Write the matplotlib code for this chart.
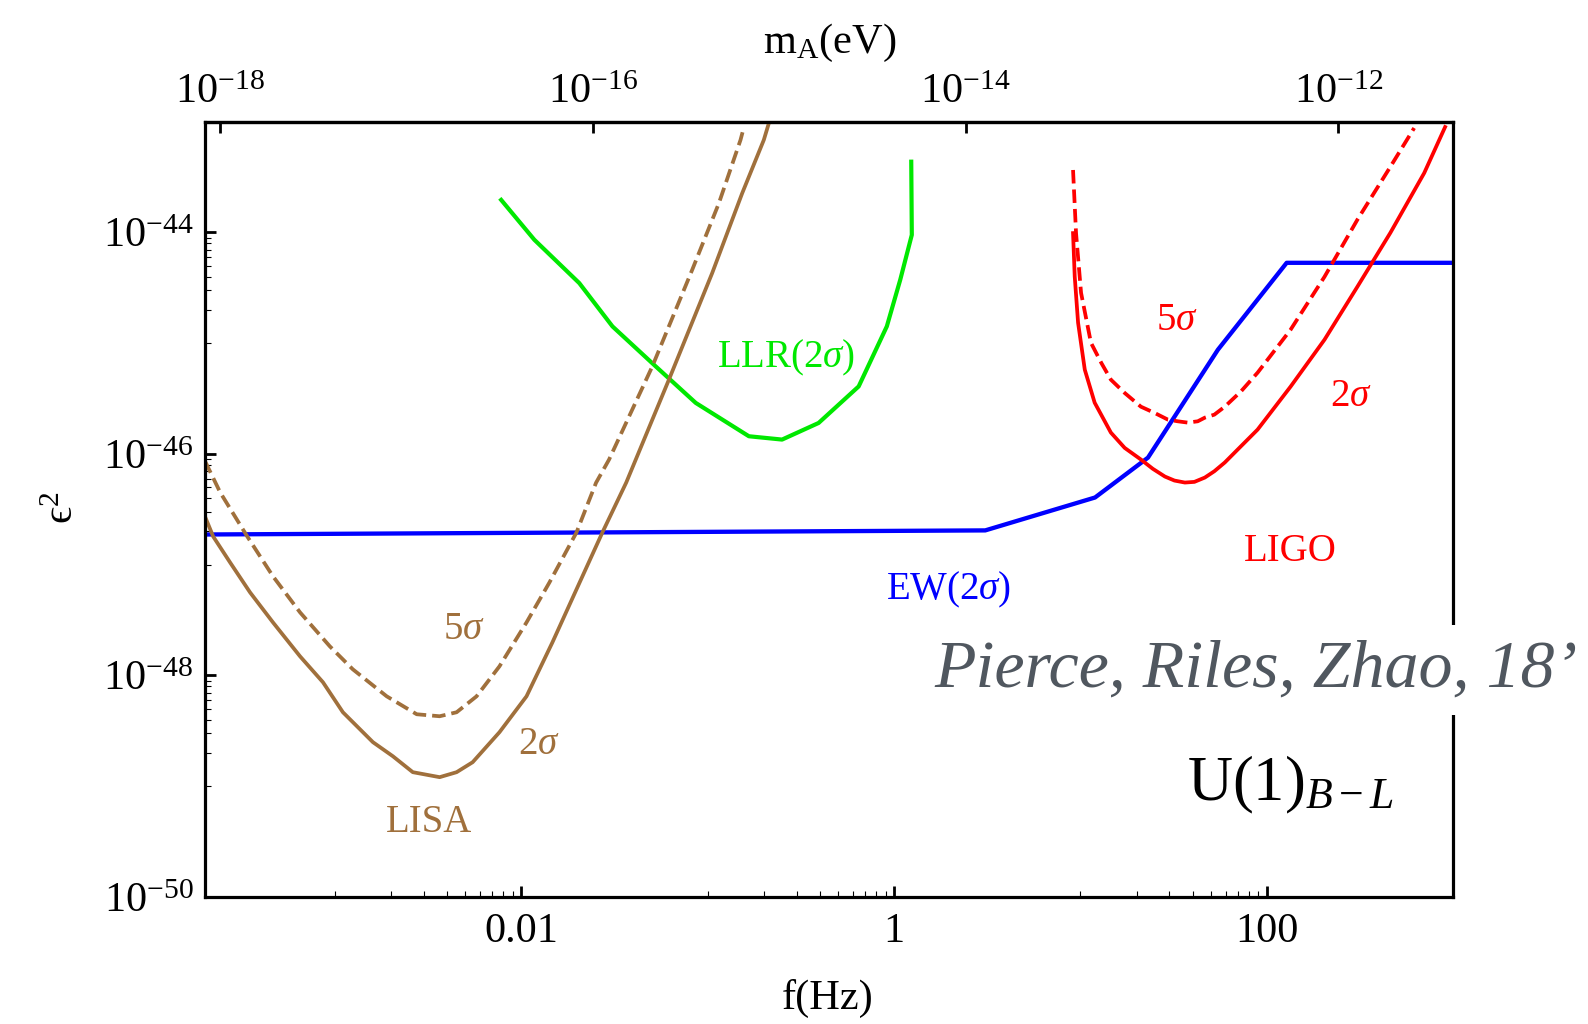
import numpy as np
import matplotlib
matplotlib.use("Agg")
import matplotlib.pyplot as plt
from matplotlib.ticker import FixedLocator, NullLocator, NullFormatter
from matplotlib.patches import Rectangle

# ---------------- data (log10 values) ----------------
# LISA, 2 sigma (solid brown)
lisa2_logf = [-3.698, -3.653, -3.562, -3.455, -3.332, -3.187, -3.064, -2.957, -2.796,
              -2.689, -2.582, -2.438, -2.347, -2.261, -2.117, -1.972, -1.833, -1.704,
              -1.565, -1.437, -1.386, -1.208, -0.976, -0.815, -0.699, -0.672]
lisa2_logeps = [-46.56, -46.745, -46.980, -47.250, -47.521, -47.827, -48.061, -48.332, -48.602,
                -48.729, -48.873, -48.918, -48.873, -48.783, -48.512, -48.188, -47.701, -47.223,
                -46.709, -46.258, -46.051, -45.329, -44.367, -43.646, -43.165, -43.014]
# LISA, 5 sigma (dashed brown)
lisa5_logf = [-3.698, -3.615, -3.470, -3.332, -3.187, -3.027, -2.904, -2.722, -2.561, -2.438,
              -2.347, -2.240, -2.117, -1.972, -1.849, -1.704, -1.599, -1.529, -1.297, -1.083,
              -0.940, -0.824, -0.805]
lisa5_logeps = [-46.06, -46.348, -46.745, -47.105, -47.430, -47.737, -47.944, -48.188, -48.350,
                -48.368, -48.332, -48.188, -47.917, -47.521, -47.160, -46.709, -46.26, -46.05,
                -45.209, -44.337, -43.736, -43.165, -43.045]
# LLR (green)
llr_logf = [-2.108, -1.930, -1.689, -1.511, -1.279, -1.064, -0.779, -0.601, -0.405, -0.190,
            -0.039, 0.033, 0.095, 0.092]
llr_logeps = [-43.706, -44.066, -44.457, -44.848, -45.209, -45.539, -45.840, -45.870, -45.720,
              -45.390, -44.848, -44.427, -44.022, -43.361]
# EW (blue)
ew_logf = [-3.70, 0.489, 1.078, 1.362, 1.737, 2.106, 3.0]
ew_logeps = [-46.727, -46.69, -46.393, -46.033, -45.059, -44.274, -44.274]
# LIGO, 2 sigma (solid red)
ligo2_logf = [0.960, 0.969, 0.987, 1.023, 1.076, 1.163, 1.237, 1.324, 1.388, 1.453, 1.504,
              1.560, 1.611, 1.667, 1.718, 1.774, 1.861, 1.950, 2.127, 2.309, 2.485, 2.662,
              2.844, 2.956]
ligo2_logeps = [-44.006, -44.398, -44.815, -45.239, -45.537, -45.807, -45.945, -46.050, -46.134,
                -46.204, -46.240, -46.258, -46.252, -46.213, -46.156, -46.077, -45.930, -45.780,
                -45.392, -44.968, -44.491, -44.004, -43.463, -43.048]
# LIGO, 5 sigma (dashed red)
ligo5_logf = [0.960, 0.976, 1.003, 1.056, 1.112, 1.163, 1.237, 1.324, 1.397, 1.469, 1.522,
              1.576, 1.629, 1.667, 1.718, 1.774, 1.861, 1.950, 2.127, 2.309, 2.485, 2.662, 2.790]
ligo5_logeps = [-43.436, -44.004, -44.545, -44.996, -45.179, -45.329, -45.449, -45.573, -45.629,
                -45.690, -45.705, -45.717, -45.705, -45.672, -45.645, -45.573, -45.435, -45.266,
                -44.878, -44.400, -43.886, -43.408, -43.057]

# axes
xlim = [2e-4, 1e3]
ylim = [1e-50, 1e-43]
x_major = [1e-2, 1.0, 1e2]
x_major_labels = ["0.01", "1", "100"]
x_minor_decades = [-3, -1, 1]
y_major = [1e-44, 1e-46, 1e-48, 1e-50]
y_major_labels = [r"$10^{-44}$", r"$10^{-46}$", r"$10^{-48}$", r"$10^{-50}$"]
y_minor_decades = [-45, -47, -49]
top_major = [1e-18, 1e-16, 1e-14, 1e-12]
top_major_labels = [r"$10^{-18}$", r"$10^{-16}$", r"$10^{-14}$", r"$10^{-12}$"]
H_EV_S = 4.135667696e-15  # Planck constant, eV s

# ---------------- style ----------------
plt.rcParams["font.family"] = ["Liberation Serif", "DejaVu Serif"]
plt.rcParams["mathtext.fontset"] = "custom"
plt.rcParams["mathtext.rm"] = "Liberation Serif"
plt.rcParams["mathtext.it"] = "Liberation Serif:italic"
plt.rcParams["mathtext.bf"] = "Liberation Serif:bold"

BROWN = "#a0703c"
GREEN = "#00e800"
BLUE = "#0000ff"
RED = "#ff0000"
LW = 2.7
DASH = (0, (3.6, 1.6))
LABEL_FS = 30.5
ANN_FS = 28

fig = plt.figure(figsize=(15.88, 10.24), dpi=100)
ax = fig.add_axes([0.12884, 0.12402, 0.78634, 0.75713])
ax.set_xscale("log")
ax.set_yscale("log")

def P(lf, le):
    return 10.0 ** np.asarray(lf), 10.0 ** np.asarray(le)

ax.plot(*P(ew_logf, ew_logeps), color=BLUE, lw=3.1)
ax.plot(*P(llr_logf, llr_logeps), color=GREEN, lw=3.0)
ax.plot(*P(lisa2_logf, lisa2_logeps), color=BROWN, lw=LW)
ax.plot(*P(lisa5_logf, lisa5_logeps), color=BROWN, lw=LW, linestyle=DASH)
ax.plot(*P(ligo2_logf, ligo2_logeps), color=RED, lw=LW)
ax.plot(*P(ligo5_logf, ligo5_logeps), color=RED, lw=LW, linestyle=DASH)

ax.set_xlim(*xlim)
ax.set_ylim(*ylim)

for s in ax.spines.values():
    s.set_linewidth(2.3)

ax.xaxis.set_major_locator(FixedLocator(x_major))
ax.set_xticklabels(x_major_labels)
ax.xaxis.set_minor_locator(FixedLocator([k * 10.0 ** d for d in x_minor_decades for k in range(1, 10)]))
ax.xaxis.set_minor_formatter(NullFormatter())
ax.yaxis.set_major_locator(FixedLocator(y_major))
ax.set_yticklabels(y_major_labels)
ax.yaxis.set_minor_locator(FixedLocator([k * 10.0 ** d for d in y_minor_decades for k in range(1, 10)]))
ax.yaxis.set_minor_formatter(NullFormatter())

ax.tick_params(which="both", direction="in", top=False, right=False, labelsize=LABEL_FS)
ax.tick_params(which="major", length=8, width=2.0)
ax.tick_params(which="minor", length=4, width=0.8)
ax.tick_params(axis="x", which="major", pad=11)
ax.tick_params(axis="y", which="major", pad=8)

secax = ax.secondary_xaxis("top", functions=(lambda f: f * H_EV_S, lambda m: m / H_EV_S))
secax.xaxis.set_major_locator(FixedLocator(top_major))
secax.set_xticklabels(top_major_labels)
secax.xaxis.set_minor_locator(NullLocator())
secax.tick_params(which="major", direction="in", length=8, width=2.0, pad=7, labelsize=LABEL_FS)
secax.spines["top"].set_linewidth(2.3)

# curve annotations
def T(lf, le, s, c):
    ax.text(10.0 ** lf, 10.0 ** le, s, color=c, fontsize=ANN_FS, ha="left", va="baseline")

T(-0.950, -45.221, r"LLR(2$\sigma$)", GREEN)
T(1.404, -44.878, r"5$\sigma$", RED)
T(2.341, -45.570, r"2$\sigma$", RED)
T(1.874, -46.970, "LIGO", RED)
T(-0.045, -47.309, r"EW(2$\sigma$)", BLUE)
T(-2.421, -47.674, r"5$\sigma$", BROWN)
T(-2.019, -48.711, r"2$\sigma$", BROWN)
T(-2.728, -49.409, "LISA", BROWN)

fig.text(1187 / 1588, 1 - 800 / 1024, r"U(1)$_{B-L}$", fontsize=45, ha="left", va="baseline")

# axis labels
fig.text(830 / 1588, 1 - 53 / 1024, r"m$_\mathrm{A}$(eV)", fontsize=LABEL_FS, ha="center", va="baseline")
fig.text(828 / 1588, 1 - 1009 / 1024, "f(Hz)", fontsize=LABEL_FS, ha="center", va="baseline")
fig.text(63 / 1588, 1 - 508 / 1024, "\u03f5$^2$", fontsize=LABEL_FS, rotation=90,
         ha="center", va="center", family=["Liberation Serif", "DejaVu Serif"])

# citation overlay
fig.add_artist(Rectangle((920 / 1588, 1 - 715 / 1024), 1 - 920 / 1588, 90 / 1024,
                         transform=fig.transFigure, facecolor="white", edgecolor="none", zorder=5))
fig.text(934 / 1588, 1 - 687 / 1024, "Pierce, Riles, Zhao, 18\u2019", fontsize=49, style="italic",
         color="#50575f", ha="left", va="baseline", zorder=6)

fig.savefig("out.png", dpi=100)
